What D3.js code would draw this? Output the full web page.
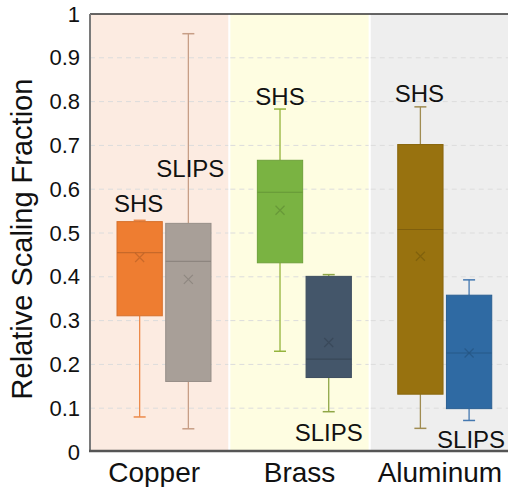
<!DOCTYPE html>
<html>
<head>
<meta charset="utf-8">
<script src="https://cdn.jsdelivr.net/npm/d3@7"></script>
<style>
  html, body { margin: 0; padding: 0; background: #fff; }
  svg { display: block; }
  text { font-family: "Liberation Sans", Arial, Helvetica, sans-serif; fill: #111; }
</style>
</head>
<body>
<svg id="chart" width="508" height="487"></svg>
<script>
// ---- data ----
const categories = ["Copper", "Brass", "Aluminum"];
const series = ["SHS", "SLIPS"];
// per category: [SHS, SLIPS]
const whiskerLow  = [[0.080, 0.053], [0.230, 0.092], [0.054, 0.072]];
const q1          = [[0.311, 0.161], [0.432, 0.170], [0.132, 0.099]];
const median      = [[0.455, 0.435], [0.593, 0.212], [0.508, 0.226]];
const q3          = [[0.526, 0.522], [0.666, 0.401], [0.702, 0.358]];
const whiskerHigh = [[0.529, 0.955], [0.783, 0.405], [0.788, 0.393]];
const means       = [[0.444, 0.394], [0.552, 0.250], [0.447, 0.226]];
const tickValues  = [0, 0.1, 0.2, 0.3, 0.4, 0.5, 0.6, 0.7, 0.8, 0.9, 1];
const tickLabels  = ["0", "0.1", "0.2", "0.3", "0.4", "0.5", "0.6", "0.7", "0.8", "0.9", "1"];
const yTitle = "Relative Scaling Fraction";
// annotation anchor (value at text baseline)
const labelAt = [[0.549, 0.627], [0.792, 0.025], [0.799, 0.009]];

// ---- styles ----
const panelColors = ["#fcebe1", "#fefde1", "#eeeeee"];
const boxFill = [["#ee7d31", "#a89f98"], ["#7ab342", "#44566a"], ["#98720f", "#2f6aa3"]];
const whiskerColor = [["#ec8a4a", "#c79e86"], ["#94b43c", "#8fa646"], ["#a08c52", "#4478b0"]];

const svg = d3.select("#chart");
const mLeft = 90, mRight = 509, mTop = 14, mBottom = 452;

const y = d3.scaleLinear().domain([0, 1]).range([mBottom, mTop]);
const x = d3.scaleBand().domain(categories).range([mLeft, mRight]).paddingInner(0.015);
const xi = d3.scaleBand().domain(series).range([27, 121]).paddingInner(0.07);

// panels
svg.selectAll("rect.panel").data(categories).join("rect")
  .attr("class", "panel")
  .attr("x", d => x(d)).attr("y", mTop)
  .attr("width", x.bandwidth()).attr("height", mBottom - mTop)
  .attr("fill", (d, i) => panelColors[i]);

// gridlines (dashed)
const grid = svg.append("g");
categories.forEach(c => {
  grid.selectAll(null).data(tickValues.filter(t => t > 0 && t < 1)).join("line")
    .attr("x1", x(c)).attr("x2", x(c) + x.bandwidth())
    .attr("y1", d => y(d)).attr("y2", d => y(d))
    .attr("stroke", "#dcdcdc").attr("stroke-width", 1)
    .attr("stroke-dasharray", "5,4");
});

// boxes
const rows = [];
categories.forEach((c, i) => series.forEach((s, j) => rows.push({
  c, s, i, j,
  lo: whiskerLow[i][j], q1: q1[i][j], med: median[i][j], q3: q3[i][j],
  hi: whiskerHigh[i][j], mean: means[i][j], lab: labelAt[i][j]
})));

const bw = xi.bandwidth();
const cx = d => x(d.c) + xi(d.s) + bw / 2;
const g = svg.append("g");

// whiskers
g.selectAll("line.wlo").data(rows).join("line")
  .attr("x1", cx).attr("x2", cx)
  .attr("y1", d => y(d.q1)).attr("y2", d => y(d.lo))
  .attr("stroke", d => whiskerColor[d.i][d.j]).attr("stroke-width", 1.3);
g.selectAll("line.whi").data(rows).join("line")
  .attr("x1", cx).attr("x2", cx)
  .attr("y1", d => y(d.q3)).attr("y2", d => y(d.hi))
  .attr("stroke", d => whiskerColor[d.i][d.j]).attr("stroke-width", 1.3);
// caps
["lo", "hi"].forEach(k => {
  g.selectAll(null).data(rows).join("line")
    .attr("x1", d => cx(d) - 6).attr("x2", d => cx(d) + 6)
    .attr("y1", d => y(d[k])).attr("y2", d => y(d[k]))
    .attr("stroke", d => whiskerColor[d.i][d.j]).attr("stroke-width", 1.5);
});

// box rects
g.selectAll("rect.box").data(rows).join("rect")
  .attr("x", d => x(d.c) + xi(d.s)).attr("width", bw)
  .attr("y", d => y(d.q3)).attr("height", d => y(d.q1) - y(d.q3))
  .attr("fill", d => boxFill[d.i][d.j])
  .attr("stroke", d => d3.color(boxFill[d.i][d.j]).darker(0.3))
  .attr("stroke-width", 1);

// medians
g.selectAll("line.med").data(rows).join("line")
  .attr("x1", d => x(d.c) + xi(d.s)).attr("x2", d => x(d.c) + xi(d.s) + bw)
  .attr("y1", d => y(d.med)).attr("y2", d => y(d.med))
  .attr("stroke", d => d3.color(boxFill[d.i][d.j]).darker(0.5)).attr("stroke-width", 1.2);

// mean markers (x)
rows.forEach(d => {
  const mx = cx(d), my = y(d.mean), r = 4.5;
  const col = d3.color(boxFill[d.i][d.j]).darker(0.8);
  g.append("path")
    .attr("d", `M${mx - r},${my - r}L${mx + r},${my + r}M${mx - r},${my + r}L${mx + r},${my - r}`)
    .attr("stroke", col).attr("stroke-width", 1.2).attr("fill", "none").attr("opacity", 0.6);
});

// annotations
const labOffset = [[-1, 2], [0, 0], [-1, 2]];
g.selectAll("text.lab").data(rows).join("text")
  .attr("x", d => cx(d) + labOffset[d.i][d.j])
  .attr("y", d => y(d.lab))
  .attr("text-anchor", "middle")
  .style("font-size", "24px")
  .text(d => d.s);

// frame
svg.append("line").attr("x1", mLeft).attr("x2", 508).attr("y1", mTop).attr("y2", mTop)
  .attr("stroke", "#333").attr("stroke-width", 1.5);
svg.append("line").attr("x1", mLeft).attr("x2", mLeft).attr("y1", mTop).attr("y2", mBottom)
  .attr("stroke", "#7a7a7a").attr("stroke-width", 2);
svg.append("line").attr("x1", mLeft - 1).attr("x2", 508).attr("y1", mBottom - 1).attr("y2", mBottom - 1)
  .attr("stroke", "#555").attr("stroke-width", 2.5);

// y axis labels
const yAxis = d3.axisLeft(y).tickValues(tickValues)
  .tickFormat((d, i) => tickLabels[i]).tickSize(0).tickPadding(10);
const ya = svg.append("g").attr("transform", `translate(${mLeft},0)`).call(yAxis);
ya.select(".domain").remove();
ya.selectAll("text").style("font-size", "22px").attr("fill", "#111")
  .style("font-family", '"Liberation Sans", Arial, sans-serif');

// x axis labels
const xAxis = d3.axisBottom(x).tickSize(0).tickPadding(10);
const xa = svg.append("g").attr("transform", `translate(0,${mBottom})`).call(xAxis);
xa.select(".domain").remove();
xa.selectAll("text").style("font-size", "28px").attr("fill", "#111")
  .style("font-family", '"Liberation Sans", Arial, sans-serif')
  .attr("dx", (d, i) => [-5, 0, 0][i]);

// y title
svg.append("text")
  .attr("transform", `translate(32,${(y(0) + y(1)) / 2 + 6}) rotate(-90)`)
  .attr("text-anchor", "middle")
  .style("font-size", "29px")
  .text(yTitle);
</script>
</body>
</html>
